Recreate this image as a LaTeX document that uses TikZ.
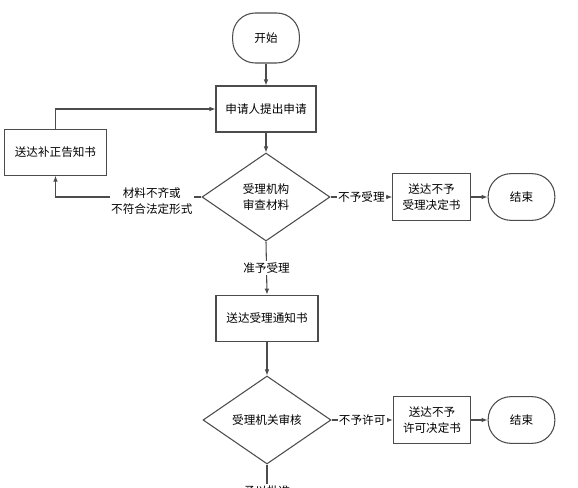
\documentclass[tikz,border=0pt]{standalone}
\usepackage{fontspec}
\setmainfont{Noto Sans CJK SC}
\usetikzlibrary{shapes.geometric,arrows.meta}
\begin{document}
\begin{tikzpicture}[x=0.75pt,y=0.75pt,
  font=\fontsize{8.7}{11.5}\selectfont,
  line/.style={draw=black!70, line width=0.8pt},
  arr/.style={line, -{Latex[length=4.5pt,width=3.5pt]}},
  box/.style={line, align=center, minimum width=75pt, minimum height=34.5pt},
  term/.style={box, rounded corners=17pt, minimum width=50pt, minimum height=35pt},
  test/.style={line, diamond, align=center, inner sep=0pt, minimum width=96pt, minimum height=66pt},
  tag/.style={fill=white, inner sep=1pt, align=center}]
\useasboundingbox (0,0) rectangle (578,-488);

% main line: application and acceptance
\node[term, minimum height=37.5pt] (start) at (266,-38) {开始};
\node[box] (apply) at (266,-109) {申请人提出申请};
\node[test] (check) at (266,-197) {受理机构\\审查材料};
\node[box, minimum width=76pt, minimum height=34pt] (fix) at (55.5,-152.5) {送达补正告知书};
\node[box, minimum width=58pt, minimum height=35pt] (refuse) at (431.5,-197) {送达不予\\受理决定书};
\node[term] (endA) at (521.5,-197) {结束};

% second stage: review
\node[box, minimum width=76.5pt, minimum height=35pt] (notice) at (267,-318.5) {送达受理通知书};
\node[test] (review) at (267,-420) {受理机关审核};
\node[box, minimum width=58pt, minimum height=35pt] (deny) at (432,-420) {送达不予\\许可决定书};
\node[term] (endB) at (521.5,-420) {结束};
\node[tag] (grant) at (267,-491) {予以批准};

\draw[arr] (start) -- (apply);
\draw[arr] (apply) -- (check);
\draw[arr] (fix.north) |- (apply.west);
\draw[arr] (check.west) -| node[tag, pos=0.17, yshift=-3pt] {材料不齐或\\不符合法定形式} (fix.south);
\draw[arr] (check.east) -- node[tag] {不予受理} (refuse.west);
\draw[arr] (refuse) -- (endA);
\draw[arr] (check.south) -- node[tag] {准予受理} (notice.north);
\draw[arr] (notice) -- (review);
\draw[arr] (review.east) -- node[tag] {不予许可} (deny.west);
\draw[arr] (deny) -- (endB);
\draw[line] (review.south) -- (grant.north);
\end{tikzpicture}
\end{document}
